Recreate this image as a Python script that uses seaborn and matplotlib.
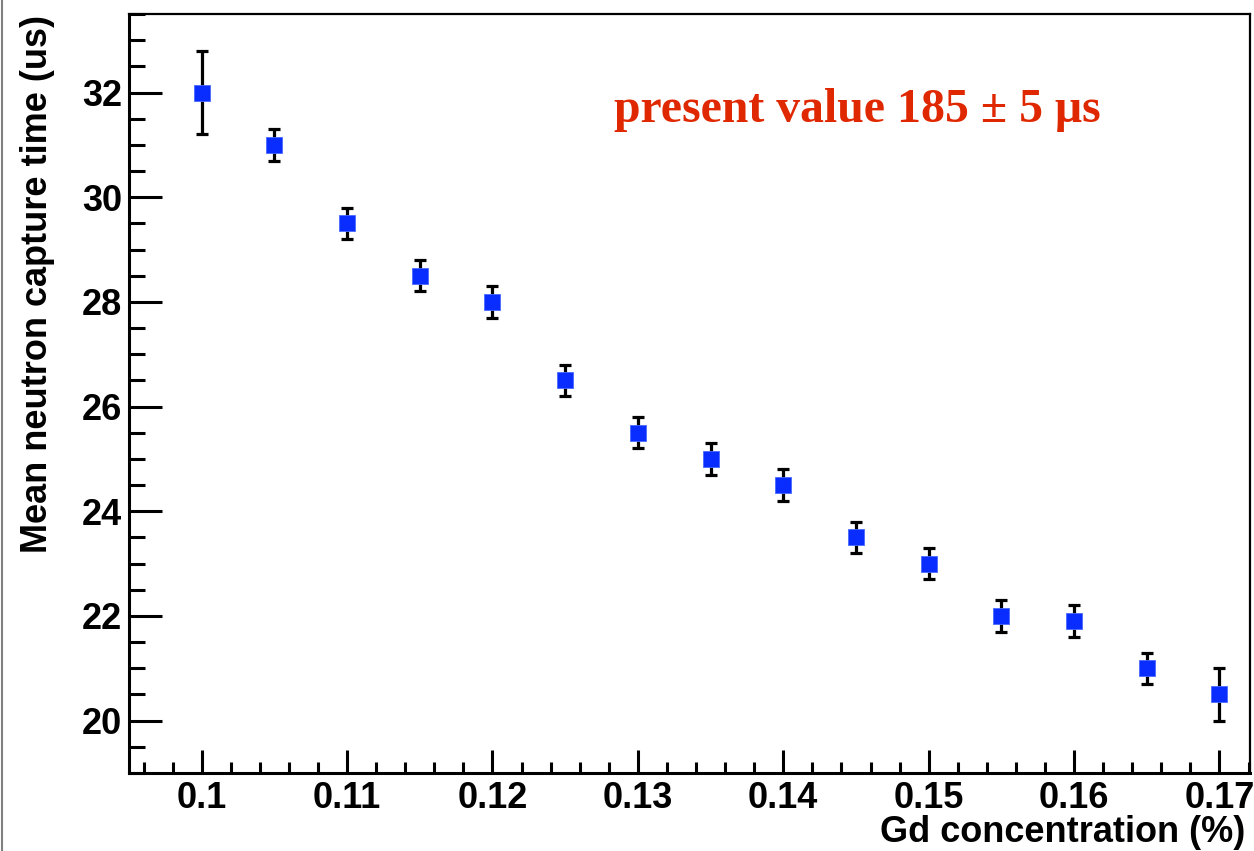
import numpy as np
import pandas as pd
import matplotlib
matplotlib.use("Agg")
import matplotlib.pyplot as plt
import seaborn as sns
from matplotlib.lines import Line2D
from matplotlib.ticker import MultipleLocator

gd_conc = [0.100, 0.105, 0.110, 0.115, 0.120, 0.125, 0.130, 0.135, 0.140,
           0.145, 0.150, 0.155, 0.160, 0.165, 0.170]
capture_time = [32.0, 31.0, 29.5, 28.5, 28.0, 26.5, 25.5, 25.0, 24.5,
                23.5, 23.0, 22.0, 21.9, 21.0, 20.5]
capture_err = [0.8, 0.3, 0.3, 0.3, 0.3, 0.3, 0.3, 0.3, 0.3,
               0.3, 0.3, 0.3, 0.3, 0.3, 0.5]
x_ticks = [0.10, 0.11, 0.12, 0.13, 0.14, 0.15, 0.16, 0.17]
x_tick_labels = ["0.1", "0.11", "0.12", "0.13", "0.14", "0.15", "0.16", "0.17"]
y_ticks = [20, 22, 24, 26, 28, 30, 32]

df = pd.DataFrame({"gd": gd_conc, "t": capture_time, "err": capture_err})

sns.set_theme(style="white")
plt.rcParams["font.family"] = ["Liberation Sans", "DejaVu Sans"]

fig = plt.figure(figsize=(12.54, 8.51), dpi=100)
ax = fig.add_axes([129/1254, 78/851, 1121/1254, 759/851])

ax.errorbar(df["gd"], df["t"], yerr=df["err"], fmt="none", ecolor="black",
            elinewidth=2.3, capsize=4, capthick=2.3, zorder=2)
sns.scatterplot(data=df, x="gd", y="t", marker="s", s=120, color="#0a2dff",
                edgecolor="#4a6bff", linewidth=0.6, ax=ax, zorder=3)

ax.set_xlim(0.095, 0.1721)
ax.set_ylim(19.0, 33.5)

ax.set_xticks(x_ticks)
ax.set_xticklabels(x_tick_labels)
ax.set_yticks(y_ticks)
ax.xaxis.set_minor_locator(MultipleLocator(0.002))
ax.yaxis.set_minor_locator(MultipleLocator(0.5))

ax.tick_params(axis="x", which="major", direction="in", length=16.5, width=2.2,
               labelsize=26, pad=6, color="black", bottom=True, top=False)
ax.tick_params(axis="x", which="minor", direction="in", length=8, width=2.2,
               color="black", bottom=True, top=False)
ax.tick_params(axis="y", which="major", direction="in", length=24, width=2.2,
               labelsize=26, pad=5, color="black", left=True, right=False)
ax.tick_params(axis="y", which="minor", direction="in", length=11.5, width=2.2,
               color="black", left=True, right=False)
for lab in ax.get_xticklabels() + ax.get_yticklabels():
    lab.set_fontweight("bold")
    lab.set_color("black")

for side, sp in ax.spines.items():
    sp.set_visible(True)
    sp.set_color("black")
    sp.set_linewidth(2.2 if side in ("left", "bottom") else 1.6)

ax.set_xlabel("")
ax.set_ylabel("")
fig.text(1245/1254, 1 - 832/851, "Gd concentration (%)", ha="right", va="center",
         fontsize=26, fontweight="bold", color="black")
fig.text(38/1254, 1 - 15/851, "Mean neutron capture time (us)", ha="center", va="top",
         rotation=90, fontsize=26, fontweight="bold", color="black")

ax.text((614 - 129) / 1121, (773 - 122) / 759, "present value 185 \u00b1 5 \u03bcs",
        transform=ax.transAxes, ha="left", va="baseline", fontsize=34.4,
        fontweight="bold", family=["Liberation Serif", "DejaVu Serif"], color="#e02800")

fig.add_artist(Line2D([1.5/1254, 1.5/1254], [0, 1], transform=fig.transFigure,
                      color="#808080", linewidth=1.5))

fig.savefig("out.png", dpi=100, facecolor="white")
